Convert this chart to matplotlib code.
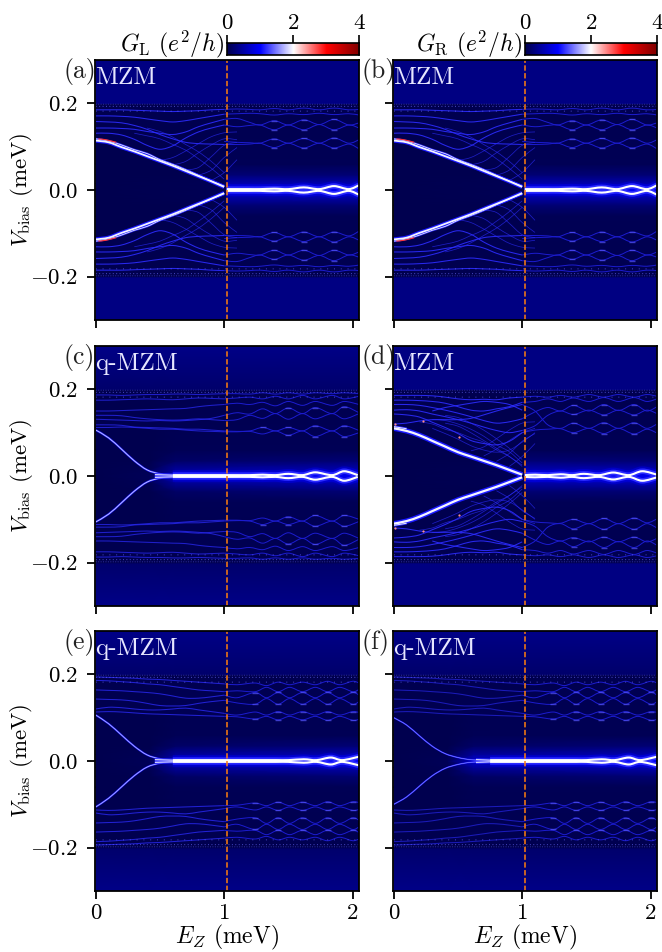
import matplotlib
matplotlib.use("Agg")
import matplotlib.pyplot as plt
import numpy as np
from matplotlib.path import Path
from matplotlib.patches import PathPatch

plt.rcParams['font.family'] = 'serif'
plt.rcParams['font.serif'] = ['cmr10']
plt.rcParams['mathtext.fontset'] = 'cm'
plt.rcParams['axes.unicode_minus'] = False
plt.rcParams['axes.formatter.use_mathtext'] = True
plt.rcParams['font.size'] = 16.5

n = np.nan

# knots in Ez (meV), left of the transition
ez_left = [0, .1, .2, .3, .4, .5, .6, .7, .8, .9, 1.0]

# ---- panel a / b
ez_a = ez_left + [1.1, 1.2, 1.28, 1.39, 1.5, 1.62, 1.74, 1.855, 1.97, 2.05]
main_a = [.114, .110, .099, .089, .078, .067, .056, .044, .032, .020, .007]
main2_a = [.118, .113, .104, .093, .084, .070, .059, .047, .034, .021, .009]
center_ez_a = [1.02, 1.1, 1.2, 1.28, 1.39, 1.5, 1.62, 1.74, 1.855, 1.97, 2.05]
center_v_a = [.002, .002, .002, .002, .003, .002, .006, .002, .009, .002, .011]
tracks_a = [
    [.131, .131, .127, .117, .103, .094, .102, .120, .134, .143, .150, .146, .149, .150, .139, .150, .139, .151, .139, .150, .143],
    [.143, .143, .142, .140, .135, .131, .128, .134, .146, .155, .163, .165, .156, .150, .160, .150, .162, .151, .163, .150, .155],
    [.158, .157, .155, .149, .140, .128, .118, .110, .107, .106, .105, .105, .106, .108, .098, .108, .097, .108, .097, .106, .095],
    [.171, .171, .170, .168, .164, .160, .157, .160, .165, .170, .175, .176, .177, .176, .173, .176, .174, .177, .174, .176, .173],
    [.185, .185, .185, .184, .183, .182, .181, .182, .183, .185, .186, .187, .186, .185, .188, .185, .189, .185, .189, .185, .186],
    [n, n, n, n, n, n, n, n, n, n, .112, .110, .109, .108, .118, .108, .119, .108, .120, .108, .116],
]
fan_a = [
    [n, n, n, n, n, .068, .075, .090, .107, .123, .132, .134],
    [n, n, n, n, n, n, .058, .066, .086, .104, .118, .116],
    [n, n, n, n, n, n, n, .046, .052, .077, .103, .110],
    [n, n, n, n, n, n, n, n, .034, .046, .075, .098],
    [n, n, n, n, n, n, n, n, n, .022, .040, .070],
    [n, n, n, .131, .125, .118, .105, .092, .072, .050, .025, n],
    [n, n, n, n, .143, .135, .122, .105, .088, .066, .040, n],
]
glint_ez_a = [1.39, 1.62, 1.855, 1.39, 1.62, 1.855, 1.39, 1.62, 1.855, 1.39, 1.62, 1.855]
glint_v_a = [.098, .097, .097, .118, .119, .120, .139, .139, .139, .160, .162, .163]
red_ez_a = [.02, .08, .16]
red_v_a = [.118, .116, .110]

# ---- panel c
ez_c = ez_left + [1.1, 1.2, 1.3, 1.4, 1.5, 1.61, 1.71, 1.84, 1.935, 2.05]
main_c = [.106, .088, .062, .035, .014, .005, .002, .002, .002, .002, .002]
center_ez_c = [.46, .6, .8, 1.02, 1.2, 1.3, 1.4, 1.5, 1.61, 1.71, 1.84, 1.935, 2.04]
center_v_c = [.003, .002, .002, .002, .002, .003, .002, .005, .002, .0085, .002, .011, .002]
tracks_c = [
    [.112, .112, .113, .112, .110, .108, .108, .106, .104, .103, .102, .102, .103, .097, .104, .094, .104, .091, .104, .091, .100],
    [.118, .118, .117, .113, .112, .111, .110, .108, .108, .106, .104, .103, .104, .112, .104, .112, .104, .116, .104, .116, .105],
    [.140, .140, .139, .135, .132, .130, .129, .130, .132, .130, .128, .130, .140, .133, .144, .131, .144, .132, .144, .132, .144],
    [.131, .130, .129, .128, .127, .128, .127, .128, .130, .133, .140, .146, .143, .155, .144, .157, .144, .158, .144, .160, .146],
    [.150, .150, .151, .152, .153, .154, .155, .156, .160, .163, .165, .168, .165, .170, .162, .172, .163, .172, .163, .172, .165],
    [.175, .175, .176, .177, .178, .177, .176, .178, .180, .179, .178, .180, .182, .178, .184, .178, .186, .178, .186, .178, .184],
    [.187, .187, .186, .187, .188, .188, .189, .189, .188, .189, .190, .190, .189, .192, .189, .192, .189, .192, .190, .192, .190],
]
fan_c = []
glint_ez_c = [1.5, 1.71, 1.935, 1.3, 1.5, 1.71, 1.935, 1.5, 1.71, 1.935]
glint_v_c = [.094, .091, .091, .112, .112, .116, .116, .157, .158, .160]

# ---- panel d
ez_d = ez_left + [1.1, 1.2, 1.3, 1.4, 1.52, 1.636, 1.75, 1.87, 1.97, 2.05]
main_d = [.110, .104, .094, .081, .068, .055, .045, .035, .025, .014, .003]
main2_d = [.114, .109, n, n, n, n, n, n, n, n, n]
center_ez_d = [1.02, 1.1, 1.2, 1.3, 1.39, 1.48, 1.6, 1.71, 1.83, 1.935, 2.05]
center_v_d = [.002, .003, .002, .004, .002, .005, .002, .008, .002, .011, .003]
tracks_d = [
    [.143, .141, .136, .124, .112, .098, .082, .075, .072, .080, .100, .106, .108, .109, .100, .110, .098, .110, .097, .108, .099],
    [.120, .122, .127, .130, .130, .130, .133, .141, .150, .158, .165, .150, .118, .110, .122, .110, .123, .110, .123, .110, .120],
    [.152, .153, .150, .143, .137, .130, .122, .113, .105, .100, .105, .116, .140, .150, .142, .152, .141, .152, .141, .152, .144],
    [.165, .165, .163, .158, .152, .145, .137, .128, .122, .125, .132, .148, .158, .150, .163, .150, .165, .151, .165, .150, .160],
    [.175, .175, .174, .172, .168, .160, .152, .150, .155, .160, .170, .172, .178, .172, .180, .172, .181, .172, .181, .172, .178],
    [.186, .186, .186, .185, .182, .178, .176, .177, .176, .180, .182, .184, .182, .186, .182, .188, .182, .188, .182, .188, .184],
    [n, n, n, .150, .158, .163, .168, .172, .170, .165, .152, n, n, n, n, n, n, n, n, n, n],
]
fan_d = [
    [n, n, n, .110, .098, .085, .070, .060, .055, .060, .078, .100],
    [n, n, n, n, .122, .115, .100, .082, .064, .045, .025, n],
    [n, n, n, n, .140, .135, .122, .106, .086, .064, .038, n],
    [n, n, n, n, n, n, .058, .067, .086, .106, .122, .125],
    [n, n, n, n, n, n, n, .046, .062, .082, .100, .110],
    [n, n, n, n, n, n, n, n, .034, .052, .080, .098],
    [n, n, n, n, n, n, n, n, n, .022, .045, .075],
    [n, n, .125, .120, .108, .100, .088, .078, .060, .045, .022, n],
    [n, n, n, .130, .128, .120, .108, .092, .072, .056, .030, n],
]
glint_ez_d = [1.4, 1.636, 1.87, 1.4, 1.636, 1.87, 1.4, 1.636, 1.87, 1.4, 1.636, 1.87]
glint_v_d = [.100, .098, .097, .122, .123, .123, .142, .141, .141, .163, .165, .165]
dot_ez_d = [.01, .23, .51]
dot_v_d = [.120, .128, .089]

# ---- panels e / f
ez_e = ez_left + [1.1, 1.24, 1.33, 1.42, 1.51, 1.61, 1.71, 1.805, 1.90, 2.0, 2.05]
main_e = [.106, .086, .060, .034, .014, .005, .002, .002, .002, .002, .002]
main_f = [.100, .083, .058, .034, .017, .008, .003, .002, .002, .002, .002]
center_ez_e = [.46, .6, .8, 1.02, 1.2, 1.4, 1.5, 1.62, 1.72, 1.83, 1.92, 2.05]
center_v_e = [.003, .002, .002, .002, .002, .002, .002, .004, .002, .008, .002, .010]
center_ez_f = [.64, .75, 1.02, 1.2, 1.3, 1.42, 1.5, 1.62, 1.72, 1.83, 1.92, 2.05]
center_v_f = [.003, .002, .002, .002, .002, .002, .002, .004, .002, .008, .002, .010]
tracks_e = [
    [.113, .114, .113, .111, .109, .108, .107, .106, .105, .104, .103, .102, .097, .103, .095, .103, .095, .103, .094, .103, .094, .096],
    [.120, .124, .123, .120, .118, .118, .120, .122, .118, .114, .110, .106, .113, .106, .114, .106, .114, .106, .114, .106, .114, .112],
    [.143, .142, .141, .138, .133, .128, .127, .128, .133, .137, .140, .134, .131, .144, .131, .144, .131, .144, .131, .144, .131, .137],
    [.164, .163, .162, .160, .158, .155, .150, .145, .145, .148, .152, .146, .158, .146, .158, .146, .158, .146, .158, .146, .158, .152],
    [.186, .185, .183, .181, .178, .176, .172, .168, .164, .162, .160, .162, .160, .170, .160, .170, .160, .170, .160, .170, .160, .165],
    [.194, .193, .192, .191, .189, .188, .186, .184, .182, .180, .178, .176, .180, .174, .182, .176, .182, .176, .184, .176, .184, .180],
]
fan_e = []
glint_ez_e = [1.24, 1.42, 1.61, 1.805, 2.0, 1.42, 1.61, 1.805, 2.0, 1.24, 1.42, 1.61, 1.805, 2.0, 1.24, 1.42, 1.61, 1.805, 2.0]
glint_v_e = [.097, .095, .095, .094, .094, .114, .114, .114, .114, .131, .131, .131, .131, .131, .158, .160, .160, .160, .160]

# background conductance at bias nodes, gouraud between them
bg_v = [-.3, -.2001, -.2, -.06, -.035, -.015, 0, .015, .035, .06, .2, .2001, .3]
bg_ez_mzm = [0, 1.02, 1.021, 2.05]
bg_g_mzm = [
    [.30, .30, .30, .30], [.30, .30, .30, .30], [.03, .03, .03, .03], [.03, .03, .06, .06],
    [.03, .03, .22, .22], [.03, .05, .55, .55], [.03, .06, .85, .85], [.03, .05, .55, .55],
    [.03, .03, .22, .22], [.03, .03, .06, .06], [.03, .03, .03, .03], [.30, .30, .30, .30], [.30, .30, .30, .30],
]
bg_ez_q = [0, .42, .62, 2.05]
bg_g_q = [
    [.33, .33, .33, .33], [.18, .18, .18, .18], [.03, .03, .03, .03], [.03, .03, .05, .06],
    [.03, .03, .15, .22], [.03, .05, .45, .55], [.03, .07, .75, .85], [.03, .05, .45, .55],
    [.03, .03, .15, .22], [.03, .03, .05, .06], [.03, .03, .03, .03], [.18, .18, .18, .18], [.33, .33, .33, .33],
]

panel_tags = ['(a)', '(b)', '(c)', '(d)', '(e)', '(f)']
panel_names = ['MZM', 'MZM', 'q-MZM', 'MZM', 'q-MZM', 'q-MZM']
cbar_ticks = [0, 2, 4]
v_ticks = [-.2, 0, .2]
v_labels = ['$-0.2$', '$0.0$', '$0.2$']
ez_ticks = [0, 1, 2]
ez_c_line = 1.02

W, H = 662, 952
lefts = [95, 393]
tops = [60, 346, 631]
pw, ph = 264, 260
BLUE = '#2c2cff'
DIM = '#1c1cd0'
cmap = 'seismic'


def smooth(x, y):
    # bezier through the read knots, nan drops a knot
    x = np.array(x[:len(y)], float)
    y = np.array(y, float)
    ok = np.isfinite(y)
    x, y = x[ok], y[ok]
    pts = np.column_stack([x, y])
    verts = [pts[0]]
    codes = [Path.MOVETO]
    for i in range(len(pts) - 1):
        p0 = pts[max(i - 1, 0)]
        p1 = pts[i]
        p2 = pts[i + 1]
        p3 = pts[min(i + 2, len(pts) - 1)]
        verts += [p1 + (p2 - p0) / 6, p2 - (p3 - p1) / 6, p2]
        codes += [Path.CURVE4] * 3
    return Path(verts, codes)


def draw(ax, x, y, color=BLUE, lw=.7, alpha=1.0, zorder=3, ls='-', cap='butt'):
    # every track shows up at +V and -V
    for s in [1, -1]:
        p = smooth(x, [s * v for v in y])
        ax.add_patch(PathPatch(p, fc='none', ec=color, lw=lw, alpha=alpha, zorder=zorder, capstyle=cap, ls=ls))


def panel(ax, ez, tracks, fan, main, center_ez, center_v, gl_ez, gl_v, bg_ez, bg_g, main2=None,
          main_w=1.0, core='#f4f4ff', track_a=.9, lead=False, tag_i=0):
    ax.pcolormesh(bg_ez, bg_v, bg_g, cmap=cmap, vmin=0, vmax=4, shading='gouraud', zorder=1)
    for t in tracks:
        draw(ax, ez[:11], t[:11], alpha=track_a, lw=.75)
        if np.isfinite(t[10]) and len(t) > 11:
            draw(ax, ez[10:], t[10:], color=DIM, lw=.7)
    for t in fan:
        draw(ax, ez, t, lw=.55, alpha=.65)
    # speckle strip just under the gap edge
    for v, st, a in [(.193, (0, (1, 2.5)), .7), (.198, (0, (1, 1.5)), .45), (.182, (0, (1, 6)), .7)]:
        draw(ax, [0, 2.05], [v, v], color='#6a6aff', lw=.7, alpha=a, ls=st)
    for s in [1, -1]:
        ax.plot(gl_ez, [s * v for v in gl_v], '_', ms=5, mew=1.0, color='#5a5aff', alpha=.65, zorder=4)
    if main2 is not None:
        draw(ax, ez_left, main2, color=BLUE, lw=1.5 * main_w)
        draw(ax, ez_left, main2, color='#e8e8ff', lw=.6 * main_w, zorder=5)
    draw(ax, ez_left, main, color='#1a1aff', lw=3 * main_w, zorder=4)
    draw(ax, ez_left, main, color=core, lw=1.3 * main_w, zorder=5)
    if lead:
        # thinner start where the q-MZM lines merge
        draw(ax, center_ez[:2], center_v[:2], color='#2a2aff', lw=2.2, zorder=6)
        draw(ax, center_ez[:2], center_v[:2], color='white', lw=.7, zorder=7)
        center_ez, center_v = center_ez[1:], center_v[1:]
    draw(ax, center_ez, center_v, color='#0000ff', lw=7, alpha=.35, zorder=5)
    draw(ax, center_ez, center_v, color='#2a2aff', lw=4, zorder=6)
    draw(ax, center_ez, center_v, color='white', lw=1.5, zorder=7)

    ax.axvline(ez_c_line, color='#ff7f0e', lw=1.1, ls=(0, (3.5, 1.6)), zorder=8)
    ax.set_xlim(-.006, 2.05)
    ax.set_ylim(-.3, .3)
    ax.set_yticks(v_ticks)
    ax.set_xticks(ez_ticks)
    ax.tick_params(length=6, width=1.3, labelsize=16.5)
    ax.tick_params(axis='y', pad=6)
    ax.tick_params(axis='x', pad=3)
    for sp in ax.spines.values():
        sp.set_linewidth(1.3)
        sp.set_zorder(10)
    ax.text(-.118, .955, panel_tags[tag_i], transform=ax.transAxes, ha='left', va='center', fontsize=18.5, color='#222222')
    ax.text(.0, .93, panel_names[tag_i], transform=ax.transAxes, ha='left', va='center', fontsize=18, color='#e6e6ff', zorder=9)


fig = plt.figure(figsize=(6.62, 9.52), dpi=100)
axes = []
for r in range(3):
    for c in range(2):
        axes.append(fig.add_axes([lefts[c] / W, 1 - (tops[r] + ph) / H, pw / W, ph / H]))

panel(axes[0], ez_a, tracks_a, fan_a, main_a, center_ez_a, center_v_a, glint_ez_a, glint_v_a, bg_ez_mzm, bg_g_mzm, main2=main2_a, tag_i=0)
panel(axes[1], ez_a, tracks_a, fan_a, main_a, center_ez_a, center_v_a, glint_ez_a, glint_v_a, bg_ez_mzm, bg_g_mzm, main2=main2_a, tag_i=1)
panel(axes[2], ez_c, tracks_c, fan_c, main_c, center_ez_c, center_v_c, glint_ez_c, glint_v_c, bg_ez_q, bg_g_q, main_w=.5, core='#c8c8ff', track_a=.7, lead=True, tag_i=2)
panel(axes[3], ez_d, tracks_d, fan_d, main_d, center_ez_d, center_v_d, glint_ez_d, glint_v_d, bg_ez_mzm, bg_g_mzm, main2=main2_d, main_w=1.25, tag_i=3)
panel(axes[4], ez_e, tracks_e, fan_e, main_e, center_ez_e, center_v_e, glint_ez_e, glint_v_e, bg_ez_q, bg_g_q, main_w=.45, core='#b8b8ff', track_a=.75, lead=True, tag_i=4)
panel(axes[5], ez_e, tracks_e, fan_e, main_f, center_ez_f, center_v_f, glint_ez_e, glint_v_e, bg_ez_q, bg_g_q, main_w=.35, core='#8a8aff', track_a=.6, lead=True, tag_i=5)

# bright spots seen on the lowest states
for ax in axes[:2]:
    draw(ax, red_ez_a, red_v_a, color='#ff3030', lw=.8, zorder=6)
for s in [1, -1]:
    axes[3].plot(dot_ez_d, [s * v for v in dot_v_d], 'o', ms=1.6, mew=0, color='#ff9090', zorder=6)

for i, ax in enumerate(axes):
    if i % 2 == 0:
        ax.set_yticklabels(v_labels)
        ax.set_ylabel(r'$V_{\rm bias}$ (meV)', fontsize=16.5, va='bottom')
        ax.yaxis.set_label_coords(-.228, .5)
    else:
        ax.set_yticklabels([])
    if i >= 4:
        ax.set_xticklabels(['$0$', '$1$', '$2$'])
        ax.set_xlabel(r'$E_Z$ (meV)', fontsize=17, va='center')
        ax.xaxis.set_label_coords(.5, -.18)
    else:
        ax.set_xticklabels([])

# colorbars sit over the right half of the top panels
grad = np.linspace(0, 4, 256).reshape(1, -1)
for c, name in enumerate([r'$G_{\rm L}$ $(e^2/h)$', r'$G_{\rm R}$ $(e^2/h)$']):
    cax = fig.add_axes([(lefts[c] + 132) / W, 1 - 55 / H, 132 / W, 12.5 / H])
    cax.imshow(grad, extent=[0, 4, 0, 1], aspect='auto', cmap=cmap, vmin=0, vmax=4)
    cax.set_yticks([])
    cax.set_xticks(cbar_ticks)
    cax.set_xticklabels(['$0$', '$2$', '$4$'])
    cax.xaxis.tick_top()
    cax.tick_params(length=5.5, width=1.2, labelsize=16.5, pad=1.5)
    for sp in cax.spines.values():
        sp.set_linewidth(1.2)
    fig.text((lefts[c] + 129) / W, 1 - 44 / H, name, ha='right', va='center', fontsize=17)

fig.savefig('out.png', dpi=100)
